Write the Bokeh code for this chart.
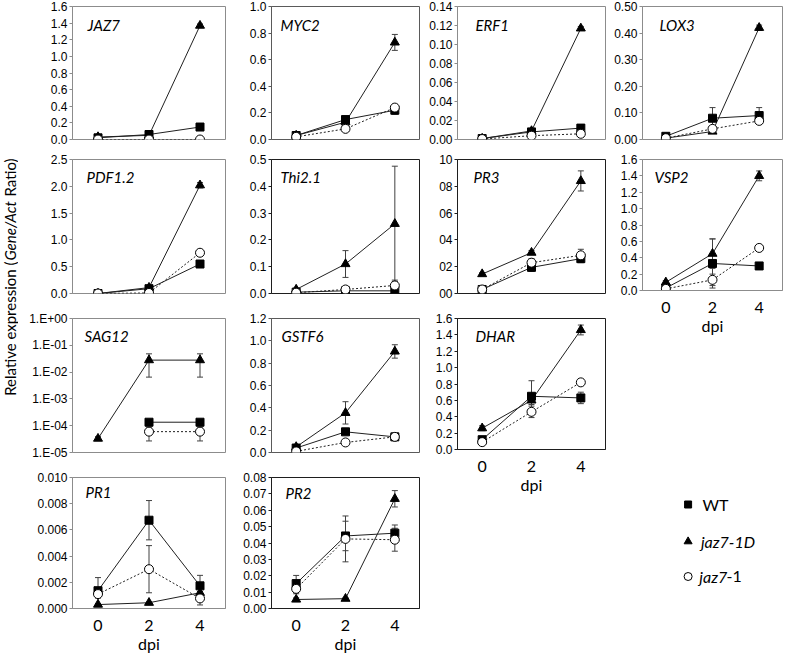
import math
from bokeh.plotting import figure
from bokeh.models import Range1d, FixedTicker, Whisker, TeeHead, ColumnDataSource, Label
from bokeh.layouts import row, column
from bokeh.embed import file_html
from bokeh.resources import INLINE
from bokeh.core.properties import value

NAN = float("nan")
DPI = [0, 2, 4]
SERIES_NAMES = ["WT", "jaz7-1D", "jaz7-1"]

# ---------------- data (mean values and +/- error) ----------------
JAZ7_WT = [0.02, 0.06, 0.15];   JAZ7_WT_ERR = [0.005, 0.01, 0.04]
JAZ7_1D = [0.03, 0.05, 1.37];   JAZ7_1D_ERR = [0.005, 0.005, 0.02]
JAZ7_J1 = [0.0, 0.0, 0.0];      JAZ7_J1_ERR = [0.0, 0.0, 0.0]
JAZ7_TICKS = [0.0, 0.2, 0.4, 0.6, 0.8, 1.0, 1.2, 1.4, 1.6]
JAZ7_LABELS = ["0.0", "0.2", "0.4", "0.6", "0.8", "1.0", "1.2", "1.4", "1.6"]

MYC2_WT = [0.03, 0.15, 0.22];   MYC2_WT_ERR = [0.01, 0.02, 0.03]
MYC2_1D = [0.03, 0.13, 0.73];   MYC2_1D_ERR = [0.01, 0.01, 0.06]
MYC2_J1 = [0.02, 0.08, 0.24];   MYC2_J1_ERR = [0.005, 0.01, 0.02]
MYC2_TICKS = [0.0, 0.2, 0.4, 0.6, 0.8, 1.0]
MYC2_LABELS = ["0.0", "0.2", "0.4", "0.6", "0.8", "1.0"]

ERF1_WT = [0.001, 0.008, 0.012];  ERF1_WT_ERR = [0.0005, 0.001, 0.002]
ERF1_1D = [0.001, 0.009, 0.117];  ERF1_1D_ERR = [0.0005, 0.001, 0.002]
ERF1_J1 = [0.0005, 0.004, 0.006]; ERF1_J1_ERR = [0.0003, 0.0008, 0.001]
ERF1_TICKS = [0.0, 0.02, 0.04, 0.06, 0.08, 0.10, 0.12, 0.14]
ERF1_LABELS = ["0.00", "0.02", "0.04", "0.06", "0.08", "0.10", "0.12", "0.14"]

LOX3_WT = [0.012, 0.08, 0.09];  LOX3_WT_ERR = [0.005, 0.04, 0.03]
LOX3_1D = [0.005, 0.03, 0.42];  LOX3_1D_ERR = [0.002, 0.005, 0.01]
LOX3_J1 = [0.005, 0.04, 0.07];  LOX3_J1_ERR = [0.002, 0.01, 0.01]
LOX3_TICKS = [0.0, 0.1, 0.2, 0.3, 0.4, 0.5]
LOX3_LABELS = ["0.00", "0.10", "0.20", "0.30", "0.40", "0.50"]

PDF12_WT = [0.0, 0.09, 0.55];   PDF12_WT_ERR = [0.0, 0.01, 0.02]
PDF12_1D = [0.0, 0.11, 2.02];   PDF12_1D_ERR = [0.0, 0.01, 0.05]
PDF12_J1 = [0.0, 0.01, 0.76];   PDF12_J1_ERR = [0.0, 0.0, 0.02]
PDF12_TICKS = [0.0, 0.5, 1.0, 1.5, 2.0, 2.5]
PDF12_LABELS = ["0.0", "0.5", "1.0", "1.5", "2.0", "2.5"]

THI21_WT = [0.005, 0.01, 0.01];  THI21_WT_ERR = [0.002, 0.005, 0.005]
THI21_1D = [0.015, 0.11, 0.26];  THI21_1D_ERR = [0.005, 0.05, 0.215]
THI21_J1 = [0.003, 0.015, 0.03]; THI21_J1_ERR = [0.002, 0.005, 0.02]
THI21_TICKS = [0.0, 0.1, 0.2, 0.3, 0.4, 0.5]
THI21_LABELS = ["0.0", "0.1", "0.2", "0.3", "0.4", "0.5"]

PR3_WT = [0.3, 1.95, 2.6];   PR3_WT_ERR = [0.1, 0.3, 0.3]
PR3_1D = [1.45, 3.05, 8.4];  PR3_1D_ERR = [0.1, 0.15, 0.75]
PR3_J1 = [0.3, 2.3, 2.85];   PR3_J1_ERR = [0.1, 0.3, 0.45]
PR3_TICKS = [0, 2, 4, 6, 8, 10]
PR3_LABELS = ["00", "02", "04", "06", "08", "10"]

VSP2_WT = [0.03, 0.33, 0.30];  VSP2_WT_ERR = [0.01, 0.30, 0.04]
VSP2_1D = [0.10, 0.45, 1.40];  VSP2_1D_ERR = [0.02, 0.18, 0.06]
VSP2_J1 = [0.02, 0.13, 0.52];  VSP2_J1_ERR = [0.01, 0.07, 0.03]
VSP2_TICKS = [0.0, 0.2, 0.4, 0.6, 0.8, 1.0, 1.2, 1.4, 1.6]
VSP2_LABELS = ["0.0", "0.2", "0.4", "0.6", "0.8", "1.0", "1.2", "1.4", "1.6"]

SAG12_WT = [NAN, 1.35e-4, 1.35e-4]
SAG12_WT_LO = [NAN, 1.2e-4, 1.2e-4];  SAG12_WT_HI = [NAN, 1.5e-4, 1.5e-4]
SAG12_1D = [3.3e-5, 2.8e-2, 2.8e-2]
SAG12_1D_LO = [2.8e-5, 6.5e-3, 6.5e-3]; SAG12_1D_HI = [3.9e-5, 4.8e-2, 4.8e-2]
SAG12_J1 = [NAN, 6.0e-5, 6.0e-5]
SAG12_J1_LO = [NAN, 2.7e-5, 2.7e-5];  SAG12_J1_HI = [NAN, 9.0e-5, 9.0e-5]
SAG12_TICKS = [1e-5, 1e-4, 1e-3, 1e-2, 1e-1, 1.0]
SAG12_LABELS = ["1.E-05", "1.E-04", "1.E-03", "1.E-02", "1.E-01", "1.E+00"]

GSTF6_WT = [0.04, 0.185, 0.14];  GSTF6_WT_ERR = [0.01, 0.01, 0.01]
GSTF6_1D = [0.05, 0.355, 0.905]; GSTF6_1D_ERR = [0.01, 0.10, 0.06]
GSTF6_J1 = [0.01, 0.09, 0.14];   GSTF6_J1_ERR = [0.005, 0.01, 0.01]
GSTF6_TICKS = [0.0, 0.2, 0.4, 0.6, 0.8, 1.0, 1.2]
GSTF6_LABELS = ["0.0", "0.2", "0.4", "0.6", "0.8", "1.0", "1.2"]

DHAR_WT = [0.12, 0.65, 0.63];  DHAR_WT_ERR = [0.02, 0.19, 0.07]
DHAR_1D = [0.26, 0.60, 1.46];  DHAR_1D_ERR = [0.03, 0.05, 0.06]
DHAR_J1 = [0.09, 0.46, 0.82];  DHAR_J1_ERR = [0.02, 0.07, 0.03]
DHAR_TICKS = [0.0, 0.2, 0.4, 0.6, 0.8, 1.0, 1.2, 1.4, 1.6]
DHAR_LABELS = ["0.0", "0.2", "0.4", "0.6", "0.8", "1.0", "1.2", "1.4", "1.6"]

PR1_WT = [0.00136, 0.00674, 0.00173];  PR1_WT_ERR = [0.001, 0.0015, 0.0008]
PR1_1D = [0.0003, 0.00044, 0.0012];    PR1_1D_ERR = [0.00005, 0.00005, 0.0001]
PR1_J1 = [0.0011, 0.0030, 0.00077];    PR1_J1_ERR = [0.0003, 0.0018, 0.0005]
PR1_TICKS = [0.0, 0.002, 0.004, 0.006, 0.008, 0.010]
PR1_LABELS = ["0.000", "0.002", "0.004", "0.006", "0.008", "0.010"]

PR2_WT = [0.0152, 0.0443, 0.046];  PR2_WT_ERR = [0.005, 0.009, 0.005]
PR2_1D = [0.0055, 0.006, 0.067];   PR2_1D_ERR = [0.001, 0.0005, 0.005]
PR2_J1 = [0.012, 0.0425, 0.042];   PR2_J1_ERR = [0.003, 0.014, 0.007]
PR2_TICKS = [0.0, 0.01, 0.02, 0.03, 0.04, 0.05, 0.06, 0.07, 0.08]
PR2_LABELS = ["0.00", "0.01", "0.02", "0.03", "0.04", "0.05", "0.06", "0.07", "0.08"]

# y title in three runs: upright / italic / upright
Y_TITLE_PARTS = ["Relative expression (", "Gene/Act", "Ratio)"]
X_TITLE = "dpi"

# ---------------- styling ----------------
GRAY = "#8c8c8c"
MID = "#5a5a5a"
DARK = "#1e1e1e"
TICK_FONT = "Liberation Sans"
TEXT_FONT = "Lato"

STYLES = [
    dict(marker="square", size=8, fill="black", dash="solid"),
    dict(marker="triangle", size=9, fill="black", dash="solid"),
    dict(marker="circle", size=9, fill="white", dash="2 2"),
]


def sym(vals, errs):
    lo = [v - e for v, e in zip(vals, errs)]
    hi = [v + e for v, e in zip(vals, errs)]
    return (vals, lo, hi)


def make_panel(name, series, ticks, labels, geom, log=False, xlabels=False,
               outline=GRAY, off=(14, 17)):
    fw, fh, bl, br, bt, bb = geom
    p = figure(width=fw, height=fh, x_range=Range1d(-1, 5),
               y_range=Range1d(ticks[0], ticks[-1]),
               y_axis_type="log" if log else "linear",
               output_backend="svg", toolbar_location=None,
               min_border_left=bl, min_border_right=br,
               min_border_top=bt, min_border_bottom=bb)
    p.grid.visible = False
    p.outline_line_color = outline
    p.outline_line_width = 1
    p.background_fill_color = "white"
    p.border_fill_color = "white"

    yax = p.yaxis[0]
    yax.ticker = FixedTicker(ticks=ticks)
    yax.major_label_overrides = dict(zip(ticks, labels))
    yax.axis_line_color = outline
    yax.major_tick_line_color = outline
    yax.major_tick_out = 3
    yax.major_tick_in = 0
    yax.minor_tick_line_color = None
    yax.major_label_standoff = 2
    yax.major_label_text_font = TICK_FONT
    yax.major_label_text_font_size = "12px"
    yax.major_label_text_color = "black"

    if xlabels:
        xax = p.xaxis[0]
        xax.ticker = FixedTicker(ticks=DPI)
        xax.axis_line_color = outline
        xax.major_tick_line_color = None
        xax.minor_tick_line_color = None
        xax.major_label_standoff = 5
        xax.major_label_text_font = TEXT_FONT
        xax.major_label_text_font_size = "16px"
        xax.major_label_text_color = "black"
        xax.axis_label = X_TITLE
        xax.axis_label_standoff = 0
        xax.axis_label_text_font = TEXT_FONT
        xax.axis_label_text_font_size = "16px"
        xax.axis_label_text_font_style = "normal"
        xax.axis_label_text_color = "black"
    else:
        p.xaxis.visible = False

    # error bars
    for vals, lo, hi in series:
        xs, los, his = [], [], []
        for x, v, l, h in zip(DPI, vals, lo, hi):
            if v == v and h > l:
                xs.append(x); los.append(l); his.append(h)
        if xs:
            src = ColumnDataSource(dict(x=xs, lower=los, upper=his))
            p.add_layout(Whisker(source=src, base="x", lower="lower", upper="upper",
                                 line_color="#404040", line_width=1,
                                 upper_head=TeeHead(size=6, line_color="#404040", line_width=1),
                                 lower_head=TeeHead(size=6, line_color="#404040", line_width=1)))
    # lines
    for (vals, lo, hi), st in zip(series, STYLES):
        p.line(DPI, vals, line_color="#202020", line_width=1, line_dash=st["dash"])
    # markers
    for (vals, lo, hi), st in zip(series, STYLES):
        p.scatter(DPI, vals, marker=st["marker"], size=st["size"],
                  fill_color=st["fill"], line_color="black", line_width=1)

    p.add_layout(Label(x=-1, y=ticks[-1], x_offset=off[0], y_offset=-off[1], text=name,
                       text_font=TEXT_FONT, text_font_style="italic",
                       text_font_size="15px", text_baseline="middle", text_color="black"))
    return p


# ---------------- layout geometry ----------------
# (fig width, fig height, border left, right, top, bottom)
col1 = column(
    make_panel("JAZ7", [sym(JAZ7_WT, JAZ7_WT_ERR), sym(JAZ7_1D, JAZ7_1D_ERR), sym(JAZ7_J1, JAZ7_J1_ERR)],
               JAZ7_TICKS, JAZ7_LABELS, (212, 149, 46, 2, 6, 10), outline=GRAY, off=(15, 18)),
    make_panel("PDF1.2", [sym(PDF12_WT, PDF12_WT_ERR), sym(PDF12_1D, PDF12_1D_ERR), sym(PDF12_J1, PDF12_J1_ERR)],
               PDF12_TICKS, PDF12_LABELS, (212, 157, 48, 2, 10, 13), outline=GRAY, off=(14, 17)),
    make_panel("SAG12", [(SAG12_WT, SAG12_WT_LO, SAG12_WT_HI), (SAG12_1D, SAG12_1D_LO, SAG12_1D_HI),
                         (SAG12_J1, SAG12_J1_LO, SAG12_J1_HI)],
               SAG12_TICKS, SAG12_LABELS, (212, 159, 49, 4, 12, 13), log=True, outline=GRAY, off=(12, 17)),
    make_panel("PR1", [sym(PR1_WT, PR1_WT_ERR), sym(PR1_1D, PR1_1D_ERR), sym(PR1_J1, PR1_J1_ERR)],
               PR1_TICKS, PR1_LABELS, (212, 190, 54, 5, 12, 44), xlabels=True, outline=GRAY, off=(13, 14)),
)

col2 = column(
    make_panel("MYC2", [sym(MYC2_WT, MYC2_WT_ERR), sym(MYC2_1D, MYC2_1D_ERR), sym(MYC2_J1, MYC2_J1_ERR)],
               MYC2_TICKS, MYC2_LABELS, (196, 149, 36, 2, 6, 10), outline=MID, off=(9, 18)),
    make_panel("Thi2.1", [sym(THI21_WT, THI21_WT_ERR), sym(THI21_1D, THI21_1D_ERR), sym(THI21_J1, THI21_J1_ERR)],
               THI21_TICKS, THI21_LABELS, (196, 157, 37, 2, 10, 13), outline=DARK, off=(9, 17)),
    make_panel("GSTF6", [sym(GSTF6_WT, GSTF6_WT_ERR), sym(GSTF6_1D, GSTF6_1D_ERR), sym(GSTF6_J1, GSTF6_J1_ERR)],
               GSTF6_TICKS, GSTF6_LABELS, (196, 159, 35, 7, 12, 13), outline=MID, off=(10, 17)),
    make_panel("PR2", [sym(PR2_WT, PR2_WT_ERR), sym(PR2_1D, PR2_1D_ERR), sym(PR2_J1, PR2_J1_ERR)],
               PR2_TICKS, PR2_LABELS, (196, 190, 41, 2, 12, 44), xlabels=True, outline=DARK, off=(14, 15)),
)

col3 = column(
    make_panel("ERF1", [sym(ERF1_WT, ERF1_WT_ERR), sym(ERF1_1D, ERF1_1D_ERR), sym(ERF1_J1, ERF1_J1_ERR)],
               ERF1_TICKS, ERF1_LABELS, (183, 149, 30, 4, 6, 10), outline=GRAY, off=(18, 18)),
    make_panel("PR3", [sym(PR3_WT, PR3_WT_ERR), sym(PR3_1D, PR3_1D_ERR), sym(PR3_J1, PR3_J1_ERR)],
               PR3_TICKS, PR3_LABELS, (183, 157, 30, 4, 10, 13), outline=DARK, off=(16, 17)),
    make_panel("DHAR", [sym(DHAR_WT, DHAR_WT_ERR), sym(DHAR_1D, DHAR_1D_ERR), sym(DHAR_J1, DHAR_J1_ERR)],
               DHAR_TICKS, DHAR_LABELS, (183, 190, 29, 4, 12, 44), xlabels=True, outline=DARK, off=(18, 17)),
)

# legend panel (keys drawn with the same marker styles)
leg = figure(width=175, height=318, x_range=Range1d(0, 175), y_range=Range1d(0, 318),
             output_backend="svg", toolbar_location=None, min_border=0,
             x_axis_location=None, y_axis_location=None)
leg.grid.visible = False
leg.outline_line_color = None
LEG_Y = [151, 114, 79]
for st, yy in zip(STYLES, LEG_Y):
    leg.scatter([57], [yy], marker=st["marker"], size=st["size"] - 1,
                fill_color=st["fill"], line_color="black", line_width=1)
leg.text([75], [LEG_Y[0]], text=[SERIES_NAMES[0]], text_font=value(TEXT_FONT),
         text_font_size="16px", text_baseline="middle", text_color="black")
leg.text([73], [LEG_Y[1]], text=[SERIES_NAMES[1]], text_font=value(TEXT_FONT),
         text_font_style="italic", text_font_size="16px", text_baseline="middle", text_color="black")
leg.text([71], [LEG_Y[2]], text=["jaz7"], text_font=value(TEXT_FONT),
         text_font_style="italic", text_font_size="16px", text_baseline="middle", text_color="black")
leg.text([105], [LEG_Y[2]], text=["-1"], text_font=value(TEXT_FONT),
         text_font_size="16px", text_baseline="middle", text_color="black")

col4 = column(
    make_panel("LOX3", [sym(LOX3_WT, LOX3_WT_ERR), sym(LOX3_1D, LOX3_1D_ERR), sym(LOX3_J1, LOX3_J1_ERR)],
               LOX3_TICKS, LOX3_LABELS, (175, 149, 33, 2, 6, 10), outline=GRAY, off=(17, 18)),
    make_panel("VSP2", [sym(VSP2_WT, VSP2_WT_ERR), sym(VSP2_1D, VSP2_1D_ERR), sym(VSP2_J1, VSP2_J1_ERR)],
               VSP2_TICKS, VSP2_LABELS, (175, 188, 33, 2, 10, 44), xlabels=True, outline=GRAY, off=(12, 17)),
    leg,
)

# shared y-axis title (rotated, read bottom to top), split into upright/italic runs
tf = figure(width=18, height=655, x_range=Range1d(0, 18), y_range=Range1d(0, 655),
            output_backend="svg", toolbar_location=None, min_border=0,
            x_axis_location=None, y_axis_location=None)
tf.grid.visible = False
tf.outline_line_color = None
ANCHOR_A = 394      # end of "(" / start of italic run
ITALIC_W = 65       # approximate length of the italic run plus a word space
title_runs = [
    (Y_TITLE_PARTS[0], ANCHOR_A, "right", "normal"),
    (Y_TITLE_PARTS[1], ANCHOR_A + 1, "left", "italic"),
    (Y_TITLE_PARTS[2], ANCHOR_A + ITALIC_W, "left", "normal"),
]
for txt, yy, align, style in title_runs:
    tf.add_layout(Label(x=9, y=yy, text=txt, angle=math.pi / 2, text_align=align,
                        text_baseline="middle", text_font=TEXT_FONT, text_font_size="15px",
                        text_font_style=style, text_color="black"))

layout = row(tf, col1, col2, col3, col4)

with open("out.html", "w") as f:
    f.write(file_html(layout, INLINE, "chart"))
